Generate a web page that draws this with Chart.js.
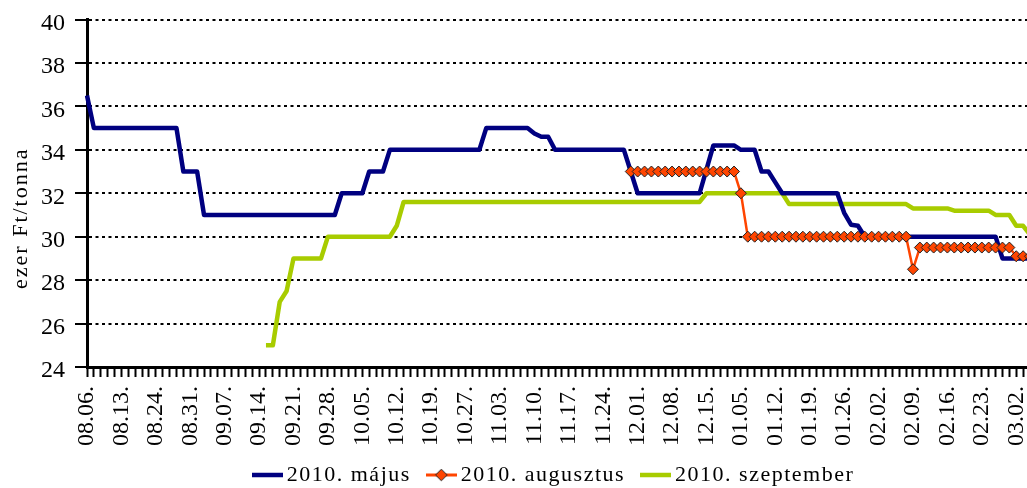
<!DOCTYPE html>
<html>
<head>
<meta charset="utf-8">
<script src="https://cdn.jsdelivr.net/npm/chart.js@4.4.1/dist/chart.umd.min.js"></script>
<style>
html, body { margin: 0; padding: 0; background: #fff; overflow: hidden; }
#wrap { position: relative; width: 1040px; height: 488px; }
</style>
</head>
<body>
<div id="wrap"><canvas id="c"></canvas></div>
<script>
// ---- data ----
const tickLabels = ['08.06.','08.13.','08.24.','08.31.','09.07.','09.14.','09.21.','09.28.',
  '10.05.','10.12.','10.19.','10.27.','11.03.','11.10.','11.17.','11.24.','12.01.','12.08.',
  '12.15.','01.05.','01.12.','01.19.','01.26.','02.02.','02.09.','02.16.','02.23.','03.02.'];

const seriesNames = ['2010. május', '2010. augusztus', '2010. szeptember'];

const may = [
  36.5,35,35,35,35,35,35,35,35,35,
  35,35,35,35,33,33,33,31,31,31,
  31,31,31,31,31,31,31,31,31,31,
  31,31,31,31,31,31,31,32,32,32,
  32,33,33,33,34,34,34,34,34,34,
  34,34,34,34,34,34,34,34,35,35,
  35,35,35,35,35,34.75,34.6,34.6,34,34,
  34,34,34,34,34,34,34,34,34,33,
  32,32,32,32,32,32,32,32,32,32,
  33.1,34.2,34.2,34.2,34.2,34,34,34,33,33,
  32.5,32,32,32,32,32,32,32,32,32,
  31.1,30.55,30.5,30,30,30,30,30,30,30,
  30,30,30,30,30,30,30,30,30,30,
  30,30,30,29,29,29,29,29
];

const aug = [
  null,null,null,null,null,null,null,null,null,null,
  null,null,null,null,null,null,null,null,null,null,
  null,null,null,null,null,null,null,null,null,null,
  null,null,null,null,null,null,null,null,null,null,
  null,null,null,null,null,null,null,null,null,null,
  null,null,null,null,null,null,null,null,null,null,
  null,null,null,null,null,null,null,null,null,null,
  null,null,null,null,null,null,null,null,null,33,
  33,33,33,33,33,33,33,33,33,33,
  33,33,33,33,33,32,30,30,30,30,
  30,30,30,30,30,30,30,30,30,30,
  30,30,30,30,30,30,30,30,30,30,
  28.5,29.5,29.5,29.5,29.5,29.5,29.5,29.5,29.5,29.5,
  29.5,29.5,29.5,29.5,29.5,29.1,29.1,29.1
];

const sep = [
  null,null,null,null,null,null,null,null,null,null,
  null,null,null,null,null,null,null,null,null,null,
  null,null,null,null,null,null,25,25,27,27.5,
  29,29,29,29,29,30,30,30,30,30,
  30,30,30,30,30,30.5,31.6,31.6,31.6,31.6,
  31.6,31.6,31.6,31.6,31.6,31.6,31.6,31.6,31.6,31.6,
  31.6,31.6,31.6,31.6,31.6,31.6,31.6,31.6,31.6,31.6,
  31.6,31.6,31.6,31.6,31.6,31.6,31.6,31.6,31.6,31.6,
  31.6,31.6,31.6,31.6,31.6,31.6,31.6,31.6,31.6,31.6,
  32,32,32,32,32,32,32,32,32,32,
  32,32,31.5,31.5,31.5,31.5,31.5,31.5,31.5,31.5,
  31.5,31.5,31.5,31.5,31.5,31.5,31.5,31.5,31.5,31.5,
  31.3,31.3,31.3,31.3,31.3,31.3,31.2,31.2,31.2,31.2,
  31.2,31.2,31,31,31,30.5,30.5,30.1
];

const yTicks = { min: 24, max: 40, step: 2 };
const yTitle = 'ezer Ft/tonna';

// ---- build chart inputs ----
const pointsPerLabel = 5;
const categories = may.map((_, i) => (i % pointsPerLabel === 0 && tickLabels[i / pointsPerLabel]) ? tickLabels[i / pointsPerLabel] : '');

const colors = { may: '#000080', aug: '#FF4500', sep: '#A8CC00' };

function legendIcon(color, lw, diamond) {
  const c = document.createElement('canvas');
  c.width = 31; c.height = 14;
  const g = c.getContext('2d');
  g.fillStyle = color;
  g.fillRect(0, 7 - lw / 2, 31, lw);
  if (diamond) {
    g.beginPath();
    g.moveTo(15.5, 1.2); g.lineTo(21.3, 7); g.lineTo(15.5, 12.8); g.lineTo(9.7, 7); g.closePath();
    g.fillStyle = color; g.fill();
    g.lineWidth = 1; g.strokeStyle = '#222'; g.stroke();
  }
  return c;
}
const legendIcons = [legendIcon(colors.may, 4.5, false), legendIcon(colors.aug, 3, true), legendIcon(colors.sep, 4.5, false)];

const LEGEND_PAD = 22;
const LEGEND_SHIFT_X = 41.5;
const LEGEND_SHIFT_Y = 8;
const TITLE_SHIFT = 25;
const textTweaks = {
  id: 'textTweaks',
  beforeLayout(chart) { chart.ctx.letterSpacing = '1.5px'; },
  afterLayout(chart) {
    const L = chart.legend;
    if (L) {
      L.left += LEGEND_SHIFT_X; L.right += LEGEND_SHIFT_X;
      L.top += LEGEND_SHIFT_Y; L.bottom += LEGEND_SHIFT_Y;
    }
  },
  beforeDraw(chart) {
    const ctx = chart.ctx;
    ctx.letterSpacing = '1.5px';
    Object.values(chart.scales).forEach(s => {
      if (s._tw) return;
      s._tw = true;
      const dl = s.drawLabels, dt = s.drawTitle;
      s._computeLabelArea = function () { return undefined; };
      s.drawLabels = function (a) { const p = ctx.letterSpacing; ctx.letterSpacing = '0px'; dl.call(this, a); ctx.letterSpacing = p; };
      s.drawTitle = function () {
        const p = ctx.letterSpacing; ctx.letterSpacing = '2px';
        ctx.save(); ctx.translate(0, TITLE_SHIFT); dt.call(this); ctx.restore();
        ctx.letterSpacing = p;
      };
    });
  }
};

Chart.defaults.font.family = "'Liberation Serif', 'Times New Roman', serif";
Chart.defaults.font.size = 22;
Chart.defaults.color = '#000';

new Chart(document.getElementById('c'), {
  type: 'line',
  data: {
    labels: categories,
    datasets: [
      { label: seriesNames[0], data: may, borderColor: colors.may, backgroundColor: colors.may,
        borderWidth: 4.5, pointRadius: 0, tension: 0, borderJoinStyle: 'round', order: 1 },
      { label: seriesNames[1], data: aug, borderColor: colors.aug, backgroundColor: colors.aug,
        borderWidth: 2.5, pointStyle: 'rectRot', pointRadius: 5.5, pointBackgroundColor: colors.aug,
        pointBorderColor: '#222', pointBorderWidth: 1, tension: 0, order: 0 },
      { label: seriesNames[2], data: sep, borderColor: colors.sep, backgroundColor: colors.sep,
        borderWidth: 4.5, pointRadius: 0, tension: 0, borderJoinStyle: 'round', order: 2 }
    ]
  },
  options: {
    responsive: true,
    maintainAspectRatio: false,
    animation: false,
    events: [],
    layout: { padding: { top: 19.5, right: 10, bottom: 0, left: 0 } },
    plugins: {
      tooltip: { enabled: false },
      legend: {
        position: 'bottom',
        labels: {
          usePointStyle: true, pointStyleWidth: 17, boxHeight: 14, padding: LEGEND_PAD,
          color: '#000', font: { size: 22 },
          generateLabels(chart) {
            return chart.data.datasets.map((ds, i) => ({
              text: ds.label, pointStyle: legendIcons[i], fillStyle: 'rgba(0,0,0,0)',
              strokeStyle: 'rgba(0,0,0,0)', lineWidth: 0, hidden: false, datasetIndex: i, fontColor: '#000'
            }));
          }
        }
      }
    },
    scales: {
      x: {
        type: 'category',
        offset: false,
        grid: { drawOnChartArea: false, drawTicks: true, tickLength: 10, tickWidth: 2, tickColor: '#000', color: '#000' },
        border: { color: '#000', width: 3 },
        ticks: { autoSkip: false, minRotation: 90, maxRotation: 90, padding: 9, color: '#000', font: { size: 24 } },
        afterFit(s) { s.height = 89 - LEGEND_PAD; s.paddingLeft = 0; s.paddingRight = 0; }
      },
      y: {
        min: yTicks.min, max: yTicks.max,
        ticks: { stepSize: yTicks.step, padding: 10, labelOffset: 4, color: '#000', font: { size: 24 } },
        grid: { color: '#000', lineWidth: 2, tickLength: 12, tickWidth: 2, tickColor: '#000', tickBorderDash: [] },
        border: { color: '#000', width: 3, dash: [3, 3.5] },
        title: { display: true, text: yTitle, color: '#000', font: { size: 22 }, padding: { top: 8, bottom: 0 } },
        afterFit(s) { s.width = 87; s.paddingTop = 0; s.paddingBottom = 0; }
      }
    }
  },
  plugins: [textTweaks]
});
</script>
</body>
</html>
